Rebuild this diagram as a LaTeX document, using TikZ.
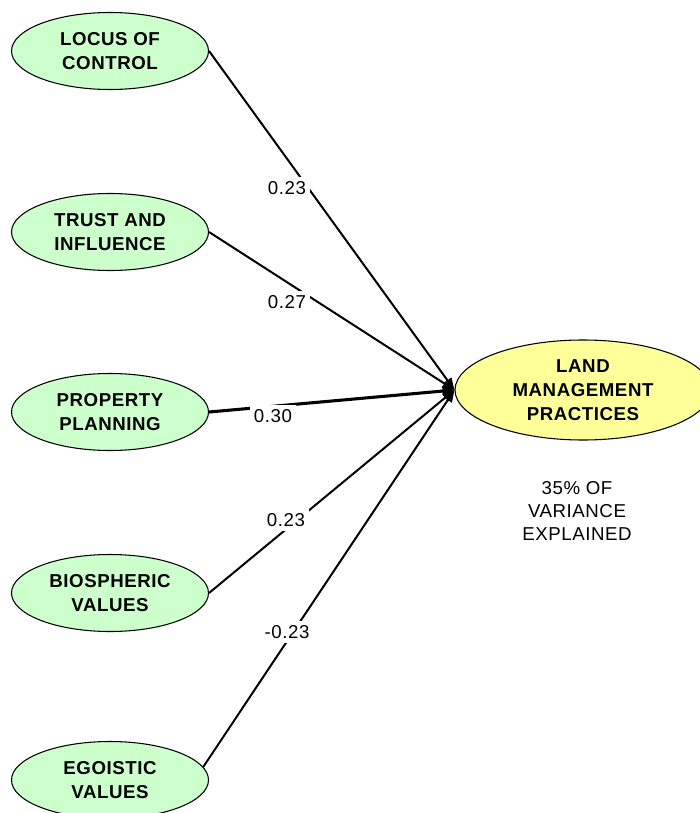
\documentclass[tikz,border=0pt]{standalone}
\usepackage{fontspec}
\setmainfont{Liberation Sans}[LetterSpace=3]
\usetikzlibrary{shapes.geometric,arrows.meta}
\definecolor{lgreen}{HTML}{CCFFCC}
\definecolor{lyellow}{HTML}{FFFF99}
\tikzset{
  factor/.style={ellipse, draw=black, line width=0.8pt, fill=lgreen, inner sep=0pt,
    minimum width=147.75pt, minimum height=57.75pt, align=center,
    font=\fontsize{14pt}{18pt}\selectfont\bfseries},
  outcome/.style={factor, fill=lyellow, minimum width=192pt, minimum height=75pt},
  coef/.style={fill=white, inner sep=3pt, font=\fontsize{14pt}{16pt}\selectfont},
  path/.style={draw=black, line width=1.5pt, -{Triangle[length=9pt,width=7pt]}},
  note/.style={align=center, font=\fontsize{14pt}{17.25pt}\selectfont}
}
\begin{document}
\begin{tikzpicture}[x=0.75pt,y=-0.75pt]
\useasboundingbox (0,0) rectangle (699,813);
\node[factor] (loc) at (110,51) {LOCUS OF\\CONTROL};
\node[factor] (tru) at (110,232) {TRUST AND\\INFLUENCE};
\node[factor] (pro) at (110,412) {PROPERTY\\PLANNING};
\node[factor] (bio) at (110,593) {BIOSPHERIC\\VALUES};
\node[factor] (ego) at (110,780) {EGOISTIC\\VALUES};
\node[outcome] (lmp) at (583,390) {LAND\\MANAGEMENT\\PRACTICES};
\node[note] (var) at (577,511) {35\% OF\\VARIANCE\\EXPLAINED};

\draw[path] (loc.east) -- (lmp.west);
\draw[path] (tru.east) -- (lmp.west);
\draw[path, line width=2.3pt] (pro.east) -- (lmp.west);
\draw[path] (bio.east) -- (lmp.west);
\draw[path] (ego.8) -- (lmp.west);

\node[coef] (c1) at (287,188) {0.23};
\node[coef] (c2) at (287,302) {0.27};
\node[coef] (c3) at (273,416) {0.30};
\node[coef] (c4) at (286,520) {0.23};
\node[coef] (c5) at (287,632) {-0.23};
\end{tikzpicture}
\end{document}
